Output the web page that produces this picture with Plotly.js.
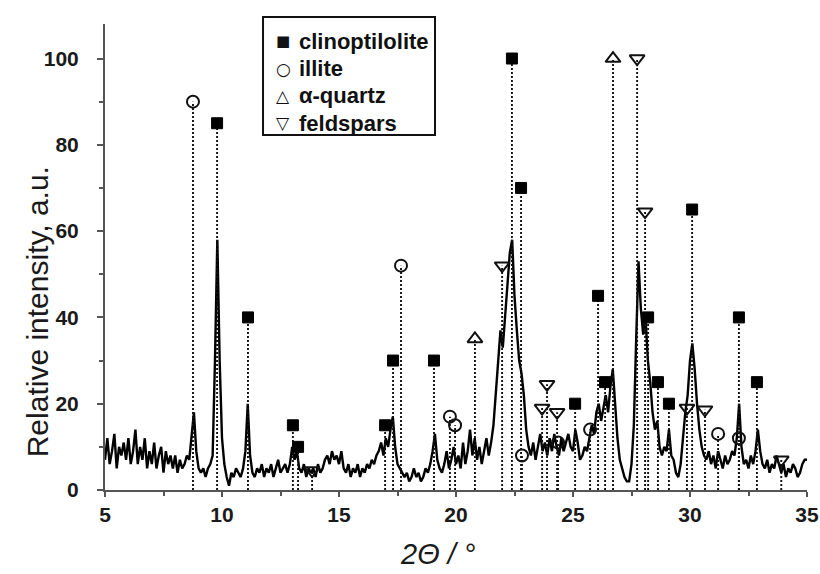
<!DOCTYPE html>
<html><head><meta charset="utf-8">
<script src="https://cdn.plot.ly/plotly-3.0.1.min.js"></script>
<style>html,body{margin:0;padding:0;background:#fff}</style>
</head><body><div id="chart" style="width:820px;height:574px"></div>
<script>
// XRD scan: start 5°, step 0.1°
const scanStart = 5, scanStep = 0.1;
const intensity = [
  7,12,6,9,13,5,10,8,11,7,
  12,6,9,14,6,10,7,12,5,9,
  6,11,5,8,10,4,9,6,8,5,
  8,4,7,5,6,8,7,12,18,9,
  5,4,5,3,5,6,8,30,58,30,
  12,6,3,1,4,3,5,4,3,5,
  9,20,8,4,3,5,4,6,3,5,
  4,6,3,5,7,4,5,6,4,6,
  10,7,9,5,4,6,3,5,4,5,
  3,6,4,5,7,8,6,9,7,8,
  6,9,5,4,6,3,5,4,6,3,
  5,4,6,5,7,6,8,9,11,8,
  12,10,14,17,10,6,5,4,3,4,
  2,3,5,3,4,2,3,5,4,6,
  9,13,7,5,4,6,9,5,7,10,
  6,8,5,11,6,9,14,8,12,7,
  10,6,9,12,8,11,15,22,30,37,
  33,40,48,55,58,45,37,30,27,22,
  14,10,8,11,7,10,13,9,11,8,
  12,9,13,10,8,12,9,11,13,10,
  9,14,11,7,8,10,9,12,15,13,
  18,20,16,19,22,18,24,28,20,12,
  7,5,3,2,2,6,15,35,53,42,
  36,40,30,25,18,14,16,10,8,10,
  9,14,8,7,4,3,6,12,18,22,
  30,34,28,20,14,10,8,7,9,6,
  8,5,9,7,5,8,6,7,9,8,
  12,20,10,6,7,5,8,6,9,14,
  9,6,5,7,4,6,5,8,6,4,
  6,3,5,4,6,5,3,4,6,7,
  7
];

const clinoX = [9.79,11.11,13.03,13.25,16.97,17.31,19.06,22.39,22.78,25.09,26.07,26.37,28.21,28.63,29.10,30.09,32.09,32.86];
const clinoY = [85,40,15,10,15,30,30,100,70,20,45,25,40,25,20,65,40,25];
const illiteX = [8.76,17.65,19.74,19.96,22.82,24.36,25.73,31.20,32.09];
const illiteY = [90,52,17,15,8,11,14,13,12];
const quartzX = [20.81,26.71];
const quartzY = [35,100];
const feldX = [13.85,21.97,23.68,23.89,24.32,27.74,28.08,29.87,30.64,33.90];
const feldY = [4.5,52,19,24.5,18,100,64.5,19,18.6,7];

const names = ['clinoptilolite','illite','\u03b1-quartz','feldspars'];
const legendGlyphs = ['\u25a0','\u25cb','\u25b3','\u25bd'];
const xTicks = [5,10,15,20,25,30,35];
const yTicks = [0,20,40,60,80,100];

function dropLines(xs, ys){
  const x=[], y=[];
  xs.forEach((v,i)=>{ x.push(v,v,null); y.push(0,ys[i],null); });
  return {x, y};
}
const dotLine = {color:'#111', width:1.9, dash:'2px,2px'};
const traces = [];
traces.push({type:'scatter', mode:'lines', x0:scanStart, dx:scanStep, y:intensity,
  line:{color:'#000', width:2.4}, showlegend:false, hoverinfo:'skip'});
[[clinoX,clinoY],[illiteX,illiteY],[quartzX,quartzY],[feldX,feldY]].forEach(([xs,ys])=>{
  const d = dropLines(xs, ys);
  traces.push({type:'scatter', mode:'lines', x:d.x, y:d.y, line:dotLine, showlegend:false, hoverinfo:'skip'});
});
const markerDefs = [
  {symbol:'square', size:11, color:'#000', line:{color:'#000', width:1}},
  {symbol:'circle-open', size:12, color:'#111', line:{width:2}},
  {symbol:'triangle-up-open', size:13, color:'#111', line:{width:2}},
  {symbol:'triangle-down-open', size:13, color:'#111', line:{width:2}}
];
[[clinoX,clinoY],[illiteX,illiteY],[quartzX,quartzY],[feldX,feldY]].forEach(([xs,ys],i)=>{
  traces.push({type:'scatter', mode:'markers', x:xs, y:ys, name:names[i], marker:markerDefs[i],
    cliponaxis:false, hoverinfo:'skip', showlegend:false});
});

// legend (box + rows) placed in paper coordinates
const legBox = {x0:0.2251, x1:0.4701, y0:0.7618, y1:1.015};
const legRows = [0.9635, 0.9045, 0.8455, 0.7865];
const legSymX = 0.2536, legTextX = 0.2735;
const annotations = [];
names.forEach((n,i)=>{
  annotations.push({text:legendGlyphs[i], xref:'paper', yref:'paper', x:legSymX, y:legRows[i],
    xanchor:'center', yanchor:'middle', showarrow:false,
    font:{family:'DejaVu Sans, sans-serif', size:i===0?15:17, color:'#111', weight:'bold'}});
  annotations.push({text:n, xref:'paper', yref:'paper', x:legTextX, y:legRows[i],
    xanchor:'left', yanchor:'middle', showarrow:false,
    font:{family:'Liberation Sans, Arial, sans-serif', size:22, color:'#111', weight:'bold'}});
});
annotations.push({text:'Relative intensity, a.u.', textangle:-90, xref:'paper', yref:'paper', x:-0.095, y:0.382,
  xanchor:'center', yanchor:'middle', showarrow:false,
  font:{family:'Liberation Sans, Arial, sans-serif', size:30, color:'#1a1a1a'}});
annotations.push({text:'<i>2\u0398 / \u00b0</i>', xref:'paper', yref:'paper', x:0.473, y:-0.177,
  xanchor:'center', yanchor:'bottom', showarrow:false,
  font:{family:'Liberation Sans, Arial, sans-serif', size:29, color:'#1a1a1a'}});

const axisFont = {family:'Liberation Sans, Arial, sans-serif', size:21, color:'#1a1a1a', weight:'bold'};
const layout = {
  width:820, height:574,
  margin:{l:105, r:13, t:24, b:84},
  paper_bgcolor:'#fff', plot_bgcolor:'#fff',
  showlegend:false,
  xaxis:{range:[5,35], tickvals:xTicks, ticktext:xTicks.map(String), ticks:'outside', ticklen:5, tickwidth:2,
    tickcolor:'#555', showline:true, linecolor:'#555', linewidth:2, showgrid:false, zeroline:false,
    tickfont:axisFont, minor:{dtick:2.5, ticks:'outside', ticklen:4, tickwidth:2, tickcolor:'#555'}},
  yaxis:{range:[0,108], tickvals:yTicks, ticktext:yTicks.map(String), ticks:'outside', ticklen:6, tickwidth:2,
    tickcolor:'#555', showline:true, linecolor:'#555', linewidth:2, showgrid:false, zeroline:false,
    ticklabelstandoff:14,
    tickfont:axisFont, minor:{dtick:10, ticks:'outside', ticklen:4, tickwidth:2, tickcolor:'#555'}},
  shapes:[{type:'rect', xref:'paper', yref:'paper', x0:legBox.x0, x1:legBox.x1, y0:legBox.y0, y1:legBox.y1,
    line:{color:'#111', width:2}, fillcolor:'#fff', layer:'above'}],
  annotations:annotations
};
Plotly.newPlot('chart', traces, layout, {staticPlot:true, displayModeBar:false});
</script></body></html>
